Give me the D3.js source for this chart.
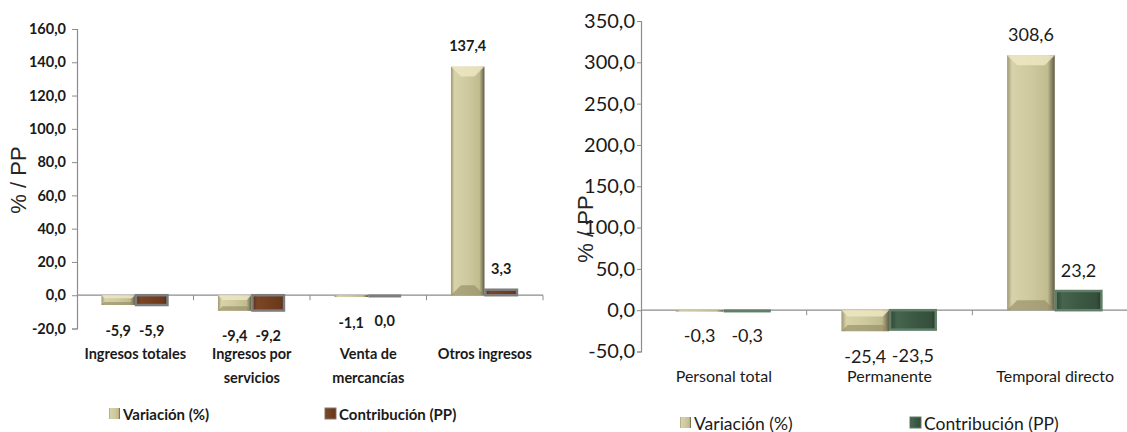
<!DOCTYPE html>
<html>
<head>
<meta charset="utf-8">
<script src="https://cdn.jsdelivr.net/npm/d3@7"></script>
<style>
  body { margin: 0; background: #fff; }
  svg { display: block; }
</style>
</head>
<body>
<div id="chart"></div>
<script>
// data
var seriesNames = ["Variación (%)", "Contribución (PP)"];

var leftCategories = ["Ingresos totales", "Ingresos por\nservicios", "Venta de\nmercancías", "Otros ingresos"];
var leftVariacion = [-5.9, -9.4, -1.1, 137.4];
var leftContribucion = [-5.9, -9.2, 0.0, 3.3];
var leftTicks = [-20, 0, 20, 40, 60, 80, 100, 120, 140, 160];

var rightCategories = ["Personal total", "Permanente", "Temporal directo"];
var rightVariacion = [-0.3, -25.4, 308.6];
var rightContribucion = [-0.3, -23.5, 23.2];
var rightTicks = [-50, 0, 50, 100, 150, 200, 250, 300, 350];

var svgWidth = 1127;
var svgHeight = 432;
var face = "Lato, 'Liberation Sans', sans-serif";

var svg = d3.select("#chart")
  .append("svg")
  .attr("width", svgWidth)
  .attr("height", svgHeight);

var defs = svg.append("defs");

function sideGradient(id, stops) {
  var g = defs.append("linearGradient").attr("id", id)
    .attr("x1", "0").attr("x2", "1").attr("y1", "0").attr("y2", "0");
  stops.forEach(function(s) {
    g.append("stop").attr("offset", s[0]).attr("stop-color", s[1]);
  });
}

sideGradient("khaki", [[0, "#9d9772"], [0.1, "#d8d2aa"], [0.5, "#cfc99f"], [0.85, "#c1bb90"], [1, "#5f5b44"]]);
sideGradient("brown", [[0, "#5a2e16"], [0.15, "#7c4526"], [0.5, "#74401f"], [0.9, "#6a381b"], [1, "#4a2410"]]);
sideGradient("green", [[0, "#2f4735"], [0.15, "#46644e"], [0.5, "#3c5944"], [0.9, "#354f3c"], [1, "#25382a"]]);

var fmt = function(v) { return d3.format(".1f")(v).replace(".", ",").replace("\u2212", "-"); };

function drawPanel(cfg) {
  var g = svg.append("g");

  var x = d3.scaleBand()
    .domain(cfg.categories)
    .range([cfg.x0, cfg.x1])
    .paddingInner(0);

  var bw = x.bandwidth();
  var xs = d3.scaleBand()
    .domain([0, 1])
    .range([bw * 0.21, bw * 0.785]);

  var y = d3.scaleLinear()
    .domain([cfg.ticks[0], cfg.ticks[cfg.ticks.length - 1]])
    .range([cfg.yBottom, cfg.yTop]);

  var y0 = y(0);

  // value axis
  var leftAxis = d3.axisLeft(y)
    .tickValues(cfg.ticks)
    .tickSize(cfg.tickLen)
    .tickPadding(cfg.tickPad)
    .tickFormat(fmt);

  var ax = g.append("g")
    .attr("transform", "translate(" + cfg.x0 + ",0)")
    .call(leftAxis);
  ax.select(".domain").attr("stroke", "#8c8c8c").attr("stroke-width", 1.2);
  ax.selectAll(".tick line").attr("stroke", "#8c8c8c");
  ax.selectAll(".tick text")
    .attr("font-family", face)
    .attr("font-size", cfg.tickSize + "px")
    .attr("font-weight", cfg.weight)
    .attr("fill", "#1a1a1a");

  // zero line + category ticks
  g.append("line")
    .attr("x1", cfg.x0).attr("x2", Math.min(cfg.x1, svgWidth))
    .attr("y1", y0).attr("y2", y0)
    .attr("stroke", "#8c8c8c").attr("stroke-width", 1.2);

  g.selectAll(".ctick")
    .data(cfg.categories)
    .enter()
    .append("line")
    .attr("x1", function(d) { return x(d) + bw; })
    .attr("x2", function(d) { return x(d) + bw; })
    .attr("y1", y0).attr("y2", y0 + 5)
    .attr("stroke", "#8c8c8c");

  // bars
  var rows = [];
  cfg.categories.forEach(function(c, i) {
    cfg.series.forEach(function(s, j) {
      rows.push({ cat: c, s: j, v: s[i] });
    });
  });

  var bars = g.append("g").selectAll("g")
    .data(rows)
    .enter()
    .append("g");

  bars.each(function(d) {
    var bx = x(d.cat) + xs(d.s);
    var w = xs.bandwidth();
    var top = Math.min(y(d.v), y0);
    var h = Math.max(Math.abs(y(d.v) - y0), 1.5);
    var el = d3.select(this);
    if (d.s === 0) {
      el.append("rect")
        .attr("x", bx).attr("y", top).attr("width", w).attr("height", h)
        .attr("fill", "url(#khaki)");
      var b = Math.min(10, h * 0.3);
      if (h > 3) {
        el.append("path")
          .attr("d", "M" + bx + "," + top + "h" + w + "l" + (-b) + "," + b + "h" + (-(w - 2 * b)) + "z")
          .attr("fill", "#ede7c2").attr("opacity", 0.85);
        el.append("path")
          .attr("d", "M" + bx + "," + (top + h) + "h" + w + "l" + (-b) + "," + (-b) + "h" + (-(w - 2 * b)) + "z")
          .attr("fill", "#8f8963").attr("opacity", 0.6);
      }
    } else {
      el.append("rect")
        .attr("x", bx + 1).attr("y", top).attr("width", w - 2).attr("height", h)
        .attr("fill", cfg.contribFill)
        .attr("stroke", cfg.contribStroke)
        .attr("stroke-width", h > 3 ? 2.5 : 1.5);
    }
  });

  // value labels
  g.append("g").selectAll("text")
    .data(rows)
    .enter()
    .append("text")
    .attr("x", function(d) { return x(d.cat) + xs(d.s) + xs.bandwidth() / 2; })
    .attr("y", function(d) { return d.v > 0 ? y(d.v) - 21 : Math.max(y(d.v), y0) + 25; })
    .attr("text-anchor", "middle")
    .attr("dominant-baseline", "central")
    .attr("font-family", face)
    .attr("font-size", cfg.valueSize + "px")
    .attr("font-weight", cfg.weight)
    .attr("fill", "#1a1a1a")
    .text(function(d) { return fmt(d.v); });

  // category labels
  var cl = g.append("g").selectAll("text")
    .data(cfg.categories)
    .enter()
    .append("text")
    .attr("x", function(d) { return x(d) + bw / 2; })
    .attr("text-anchor", "middle")
    .attr("font-family", face)
    .attr("font-size", cfg.catSize + "px")
    .attr("font-weight", cfg.weight)
    .attr("fill", "#1a1a1a");
  cl.each(function(d) {
    var t = d3.select(this);
    d.split("\n").forEach(function(line, k) {
      t.append("tspan")
        .attr("x", x(d) + bw / 2)
        .attr("y", cfg.catY + k * 24)
        .attr("dominant-baseline", "central")
        .text(line);
    });
  });

  // axis title
  g.append("text")
    .attr("transform", "translate(" + cfg.titleX + "," + cfg.titleY + ") rotate(-90)")
    .attr("text-anchor", "middle")
    .attr("dominant-baseline", "central")
    .attr("font-family", "'Liberation Sans', Arial, sans-serif")
    .attr("font-size", "22px")
    .attr("fill", "#262626")
    .text("% / PP");

  // legend
  var lg = g.append("g").selectAll("g")
    .data(seriesNames)
    .enter()
    .append("g")
    .attr("transform", function(d, i) { return "translate(" + cfg.legendX[i] + "," + cfg.legendY + ")"; });
  lg.append("rect")
    .attr("x", 0).attr("y", -6).attr("width", 11).attr("height", 11)
    .attr("fill", function(d, i) { return i === 0 ? "url(#khaki)" : cfg.contribFill; })
    .attr("stroke", function(d, i) { return i === 0 ? "none" : cfg.contribStroke; })
    .attr("stroke-width", 1);
  lg.append("text")
    .attr("x", 14)
    .attr("y", 0)
    .attr("dominant-baseline", "central")
    .attr("font-family", face)
    .attr("font-size", cfg.legendSize + "px")
    .attr("font-weight", cfg.weight)
    .attr("fill", "#1a1a1a")
    .text(function(d) { return d; });
}

drawPanel({
  categories: leftCategories,
  series: [leftVariacion, leftContribucion],
  ticks: leftTicks,
  x0: 77, x1: 543, yTop: 29, yBottom: 328.5,
  tickLen: 5, tickPad: 6,
  tickSize: 14.5, valueSize: 14.5, catSize: 14.5, legendSize: 15, weight: "bold",
  catY: 353, titleX: 18, titleY: 180,
  legendX: [109, 325], legendY: 414,
  contribFill: "url(#brown)", contribStroke: "#7d7d7d"
});

drawPanel({
  categories: rightCategories,
  series: [rightVariacion, rightContribucion],
  ticks: rightTicks,
  x0: 641, x1: 1138, yTop: 21, yBottom: 351.5,
  tickLen: 4, tickPad: 2,
  tickSize: 20, valueSize: 18, catSize: 16, legendSize: 17.5, weight: "normal",
  catY: 375, titleX: 585, titleY: 229,
  legendX: [680, 910], legendY: 423,
  contribFill: "url(#green)", contribStroke: "#607e68"
});
</script>
</body>
</html>
